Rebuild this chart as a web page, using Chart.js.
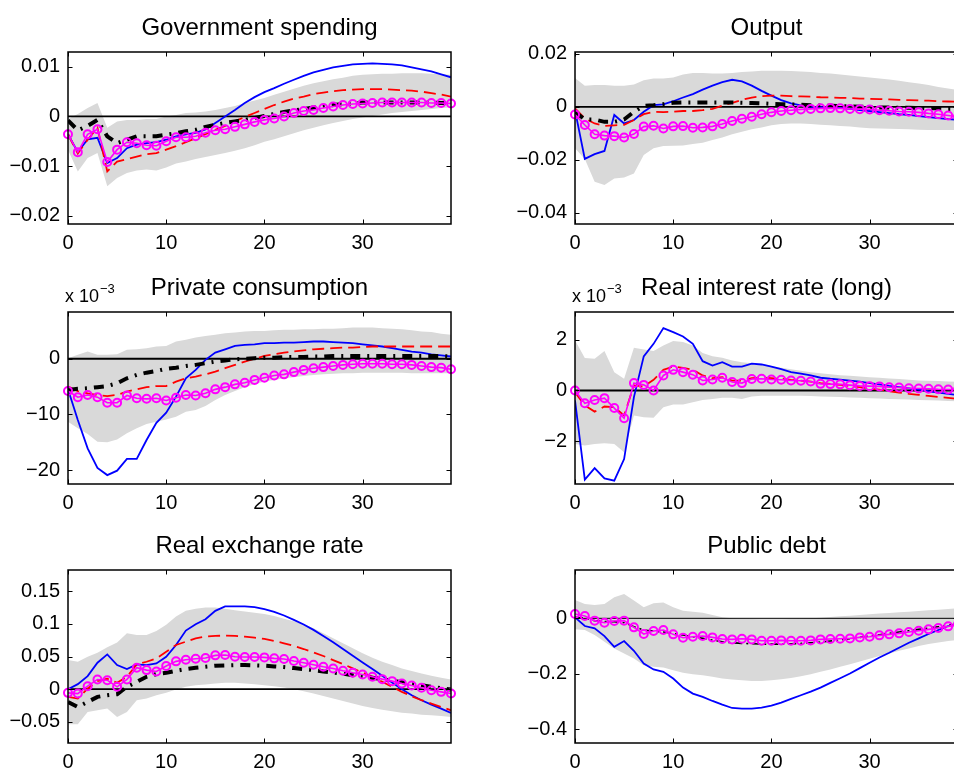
<!DOCTYPE html>
<html><head><meta charset="utf-8">
<script src="https://cdn.jsdelivr.net/npm/chart.js@4.4.0/dist/chart.umd.min.js"></script>
<style>
html,body{margin:0;padding:0;background:#fff;overflow:hidden;width:954px;height:772px;position:relative;}
canvas{position:absolute;}
</style></head><body>
<canvas id="c1" width="477" height="265" style="left:0;top:0;width:477px;height:265px"></canvas>
<canvas id="c2" width="523" height="265" style="left:477px;top:0;width:523px;height:265px"></canvas>
<canvas id="c3" width="477" height="268" style="left:0;top:257px;width:477px;height:268px"></canvas>
<canvas id="c4" width="523" height="268" style="left:477px;top:257px;width:523px;height:268px"></canvas>
<canvas id="c5" width="477" height="257" style="left:0;top:515px;width:477px;height:257px"></canvas>
<canvas id="c6" width="523" height="257" style="left:477px;top:515px;width:523px;height:257px"></canvas>
<script>
// ---------- DATA ----------
const periods = [0,1,2,3,4,5,6,7,8,9,10,11,12,13,14,15,16,17,18,19,20,21,22,23,24,25,26,27,28,29,30,31,32,33,34,35,36,37,38,39];
const xTicks = [0,10,20,30];
const titles = ["Government spending","Output","Private consumption","Real interest rate (long)","Real exchange rate","Public debt"];
const exponentLabel = "x 10";
const exponentPower = "\u22123";

// Government spending
const govYTicks = [-0.02,-0.01,0,0.01];
const govYRange = [-0.0217,0.013];
const govBlue = [-0.0036,-0.0072,-0.0046,-0.0043,-0.0094,-0.0084,-0.0064,-0.0057,-0.0054,-0.0052,-0.0047,-0.0040,-0.0036,-0.0033,-0.0026,-0.0013,0.0000,0.0013,0.0027,0.0039,0.0049,0.0057,0.0066,0.0074,0.0082,0.0089,0.0094,0.0099,0.0102,0.0105,0.0106,0.0107,0.0106,0.0105,0.0103,0.0099,0.0095,0.0091,0.0085,0.0079];
const govRed = [-0.0036,-0.0075,-0.0047,-0.0023,-0.0111,-0.0091,-0.0086,-0.0081,-0.0076,-0.0074,-0.0067,-0.0060,-0.0052,-0.0044,-0.0036,-0.0027,-0.0019,-0.0010,-0.0001,0.0007,0.0015,0.0023,0.0030,0.0036,0.0040,0.0045,0.0048,0.0051,0.0053,0.0054,0.0055,0.0055,0.0055,0.0054,0.0053,0.0052,0.0050,0.0047,0.0044,0.0040];
const govBlack = [-0.0008,-0.0028,-0.0019,-0.0007,-0.0040,-0.0054,-0.0047,-0.0040,-0.0040,-0.0040,-0.0037,-0.0034,-0.0030,-0.0027,-0.0021,-0.0017,-0.0013,-0.0010,-0.0007,-0.0003,0.0001,0.0005,0.0009,0.0012,0.0015,0.0018,0.0021,0.0023,0.0025,0.0026,0.0028,0.0028,0.0028,0.0028,0.0028,0.0028,0.0028,0.0028,0.0027,0.0027];
const govMagenta = [-0.0036,-0.0072,-0.0036,-0.0026,-0.0092,-0.0067,-0.0052,-0.0054,-0.0058,-0.0059,-0.0050,-0.0042,-0.0042,-0.0040,-0.0033,-0.0028,-0.0026,-0.0021,-0.0016,-0.0011,-0.0007,-0.0004,0.0000,0.0007,0.0011,0.0013,0.0017,0.0020,0.0023,0.0025,0.0026,0.0027,0.0028,0.0028,0.0028,0.0028,0.0028,0.0027,0.0027,0.0026];
const govBandHi = [-0.0005,0.0005,0.0017,0.0027,-0.0023,-0.0010,-0.0007,-0.0007,-0.0005,-0.0005,0.0000,0.0003,0.0007,0.0008,0.0010,0.0013,0.0017,0.0021,0.0027,0.0032,0.0037,0.0044,0.0050,0.0056,0.0062,0.0067,0.0071,0.0075,0.0078,0.0082,0.0084,0.0085,0.0086,0.0086,0.0087,0.0087,0.0087,0.0086,0.0085,0.0084];
const govBandLo = [-0.0067,-0.0111,-0.0084,-0.0074,-0.0141,-0.0124,-0.0114,-0.0109,-0.0107,-0.0109,-0.0103,-0.0095,-0.0091,-0.0086,-0.0082,-0.0078,-0.0074,-0.0069,-0.0064,-0.0058,-0.0051,-0.0046,-0.0040,-0.0034,-0.0028,-0.0023,-0.0018,-0.0013,-0.0009,-0.0005,-0.0002,0.0001,0.0004,0.0007,0.0009,0.0011,0.0013,0.0015,0.0017,0.0018];

// Output
const outYTicks = [-0.04,-0.02,0,0.02];
const outYRange = [-0.0443,0.0207];
const outBlue = [-0.0013,-0.0197,-0.0179,-0.0167,-0.0031,-0.0063,-0.0050,-0.0019,0.0006,0.0009,0.0021,0.0035,0.0048,0.0065,0.0080,0.0093,0.0102,0.0096,0.0080,0.0060,0.0042,0.0025,0.0013,0.0005,0.0000,-0.0001,-0.0003,-0.0004,-0.0008,-0.0013,-0.0016,-0.0020,-0.0024,-0.0028,-0.0031,-0.0035,-0.0039,-0.0043,-0.0047,-0.0049];
const outRed = [-0.0006,-0.0044,-0.0063,-0.0072,-0.0070,-0.0068,-0.0050,-0.0028,-0.0019,-0.0020,-0.0019,-0.0016,-0.0016,-0.0013,-0.0008,0.0004,0.0015,0.0026,0.0035,0.0040,0.0042,0.0042,0.0040,0.0039,0.0038,0.0036,0.0035,0.0034,0.0033,0.0031,0.0030,0.0029,0.0028,0.0026,0.0025,0.0024,0.0023,0.0021,0.0020,0.0019];
const outBlack = [-0.0019,-0.0048,-0.0048,-0.0057,-0.0057,-0.0048,-0.0019,0.0003,0.0006,0.0010,0.0015,0.0016,0.0016,0.0016,0.0016,0.0016,0.0016,0.0015,0.0014,0.0013,0.0011,0.0010,0.0009,0.0008,0.0006,0.0005,0.0004,0.0003,0.0001,0.0000,-0.0001,-0.0003,-0.0003,-0.0004,-0.0004,-0.0005,-0.0006,-0.0006,-0.0008,-0.0008];
const outMagenta = [-0.0029,-0.0069,-0.0104,-0.0109,-0.0111,-0.0116,-0.0103,-0.0075,-0.0072,-0.0082,-0.0074,-0.0073,-0.0079,-0.0078,-0.0074,-0.0065,-0.0054,-0.0045,-0.0038,-0.0028,-0.0021,-0.0016,-0.0013,-0.0010,-0.0008,-0.0006,-0.0005,-0.0006,-0.0008,-0.0009,-0.0010,-0.0013,-0.0015,-0.0018,-0.0019,-0.0021,-0.0025,-0.0028,-0.0033,-0.0038];
const outBandHi = [0.0109,0.0079,0.0082,0.0082,0.0079,0.0079,0.0084,0.0100,0.0107,0.0107,0.0111,0.0122,0.0128,0.0128,0.0126,0.0126,0.0128,0.0131,0.0133,0.0136,0.0136,0.0136,0.0135,0.0133,0.0131,0.0128,0.0126,0.0122,0.0118,0.0114,0.0111,0.0107,0.0103,0.0098,0.0093,0.0088,0.0082,0.0075,0.0069,0.0063];
const outBandLo = [-0.0157,-0.0197,-0.0283,-0.0296,-0.0271,-0.0267,-0.0252,-0.0182,-0.0157,-0.0148,-0.0147,-0.0146,-0.0141,-0.0136,-0.0126,-0.0116,-0.0104,-0.0094,-0.0085,-0.0078,-0.0070,-0.0065,-0.0063,-0.0063,-0.0065,-0.0068,-0.0070,-0.0073,-0.0075,-0.0078,-0.0081,-0.0082,-0.0083,-0.0084,-0.0085,-0.0087,-0.0088,-0.0088,-0.0088,-0.0088];

// Private consumption (x 10^-3)
const conYTicks = [-20,-10,0];
const conYRange = [-22.5,8.4];
const conBlue = [-5.5,-11.0,-16.1,-19.6,-20.9,-20.1,-18.0,-18.0,-14.6,-11.5,-9.7,-6.8,-3.5,-2.0,-0.2,1.1,1.7,2.3,2.5,2.6,2.8,2.8,2.9,2.9,3.0,3.1,3.1,3.0,2.9,2.8,2.6,2.4,2.2,1.9,1.6,1.3,1.1,0.8,0.6,0.4];
const conRed = [-5.0,-5.8,-6.2,-6.5,-6.7,-6.5,-5.9,-5.5,-5.1,-4.9,-4.9,-4.1,-3.5,-3.2,-2.8,-2.3,-1.7,-1.1,-0.5,0.0,0.5,0.8,1.1,1.3,1.5,1.7,1.8,1.9,2.0,2.0,2.1,2.2,2.2,2.2,2.2,2.2,2.2,2.2,2.2,2.2];
const conBlack = [-5.6,-5.4,-5.3,-5.1,-4.9,-4.4,-3.5,-2.9,-2.5,-2.2,-1.8,-1.6,-1.3,-1.1,-0.8,-0.5,-0.3,-0.1,0.0,0.1,0.2,0.2,0.3,0.3,0.3,0.4,0.4,0.5,0.5,0.5,0.5,0.5,0.5,0.5,0.5,0.5,0.5,0.5,0.5,0.4];
const conMagenta = [-5.8,-6.9,-6.5,-6.9,-7.9,-7.9,-6.6,-7.1,-7.2,-7.1,-7.5,-7.0,-6.5,-6.6,-6.2,-5.5,-5.1,-4.6,-4.3,-3.8,-3.4,-3.0,-2.8,-2.4,-2.0,-1.7,-1.5,-1.3,-1.1,-1.0,-0.9,-0.9,-0.9,-1.0,-1.0,-1.1,-1.3,-1.5,-1.6,-1.9];
const conBandHi = [0.1,0.7,1.3,0.7,0.7,0.8,1.6,1.7,1.9,2.2,2.3,3.1,3.4,3.8,4.1,4.3,4.6,4.7,4.9,5.0,5.0,5.1,5.2,5.2,5.3,5.3,5.4,5.4,5.5,5.6,5.6,5.6,5.5,5.4,5.3,5.1,4.9,4.8,4.5,4.3];
const conBandLo = [-11.3,-12.5,-13.5,-14.9,-15.0,-14.5,-13.4,-12.5,-11.7,-11.3,-10.9,-10.4,-9.5,-9.2,-8.5,-7.4,-6.5,-5.8,-5.1,-4.6,-4.1,-3.8,-3.5,-3.3,-3.1,-2.9,-2.8,-2.7,-2.6,-2.6,-2.5,-2.5,-2.5,-2.5,-2.5,-2.6,-2.6,-2.6,-2.6,-2.6];

// Real interest rate (long) (x 10^-3)
const rateYTicks = [-2,0,2];
const rateYRange = [-3.67,3.08];
const rateBlue = [-0.39,-3.50,-3.05,-3.45,-3.54,-2.69,-0.26,1.34,1.83,2.45,2.29,2.12,1.83,1.15,0.98,1.11,0.94,0.94,1.05,1.02,0.94,0.84,0.72,0.66,0.59,0.50,0.46,0.43,0.39,0.35,0.29,0.24,0.18,0.13,0.08,0.03,-0.03,-0.08,-0.13,-0.18];
const rateRed = [-0.07,-0.59,-0.83,-0.63,-0.66,-0.98,0.20,0.16,0.42,0.81,0.94,0.89,0.81,0.59,0.48,0.52,0.39,0.39,0.48,0.50,0.48,0.46,0.42,0.39,0.35,0.29,0.26,0.22,0.17,0.13,0.08,0.03,-0.03,-0.08,-0.13,-0.17,-0.21,-0.25,-0.29,-0.33];
const rateMagenta = [0.00,-0.50,-0.37,-0.30,-0.69,-1.09,0.29,0.22,0.00,0.59,0.81,0.72,0.62,0.39,0.43,0.50,0.33,0.29,0.45,0.46,0.43,0.42,0.39,0.38,0.35,0.26,0.25,0.24,0.21,0.18,0.17,0.16,0.13,0.12,0.09,0.08,0.07,0.05,0.04,0.03];
const rateBandHi = [1.97,1.27,1.25,1.55,0.72,0.46,1.68,1.61,1.55,1.77,1.94,1.90,1.77,1.47,1.34,1.28,1.18,1.11,1.07,1.02,0.96,0.89,0.83,0.77,0.72,0.68,0.64,0.60,0.58,0.55,0.52,0.50,0.47,0.45,0.42,0.39,0.38,0.37,0.35,0.34];
const rateBandLo = [-2.10,-2.16,-2.10,-2.07,-2.10,-2.42,-0.98,-1.05,-1.07,-0.66,-0.55,-0.55,-0.46,-0.37,-0.33,-0.29,-0.29,-0.33,-0.24,-0.21,-0.21,-0.21,-0.21,-0.21,-0.22,-0.24,-0.25,-0.26,-0.28,-0.29,-0.30,-0.31,-0.33,-0.34,-0.35,-0.37,-0.38,-0.39,-0.41,-0.42];

// Real exchange rate
const rerYTicks = [-0.05,0,0.05,0.1,0.15];
const rerYRange = [-0.0824,0.1825];
const rerBlue = [0.0000,0.0077,0.0200,0.0405,0.0533,0.0369,0.0308,0.0379,0.0369,0.0395,0.0497,0.0677,0.0897,0.0995,0.1072,0.1200,0.1267,0.1267,0.1267,0.1256,0.1226,0.1185,0.1128,0.1062,0.0990,0.0908,0.0815,0.0718,0.0615,0.0513,0.0410,0.0308,0.0205,0.0103,0.0000,-0.0092,-0.0169,-0.0236,-0.0297,-0.0364];
const rerRed = [-0.0118,-0.0144,0.0010,0.0123,0.0159,0.0097,0.0190,0.0379,0.0420,0.0472,0.0574,0.0677,0.0728,0.0779,0.0805,0.0815,0.0821,0.0815,0.0805,0.0790,0.0769,0.0738,0.0703,0.0662,0.0615,0.0564,0.0508,0.0446,0.0385,0.0318,0.0256,0.0190,0.0113,0.0036,-0.0041,-0.0108,-0.0169,-0.0221,-0.0272,-0.0323];
const rerBlack = [-0.0195,-0.0272,-0.0195,-0.0118,-0.0092,-0.0077,0.0036,0.0113,0.0190,0.0231,0.0251,0.0282,0.0308,0.0328,0.0344,0.0359,0.0364,0.0369,0.0369,0.0364,0.0359,0.0349,0.0338,0.0323,0.0308,0.0292,0.0272,0.0256,0.0236,0.0215,0.0195,0.0174,0.0154,0.0128,0.0108,0.0082,0.0062,0.0036,0.0015,-0.0005];
const rerMagenta = [-0.0056,-0.0067,0.0046,0.0149,0.0138,0.0036,0.0149,0.0328,0.0292,0.0272,0.0354,0.0426,0.0451,0.0467,0.0477,0.0518,0.0523,0.0497,0.0492,0.0492,0.0487,0.0472,0.0462,0.0431,0.0405,0.0374,0.0344,0.0318,0.0282,0.0251,0.0226,0.0190,0.0154,0.0123,0.0087,0.0056,0.0021,-0.0015,-0.0041,-0.0067];
const rerBandHi = [0.0446,0.0420,0.0497,0.0559,0.0641,0.0713,0.0856,0.0831,0.0831,0.0892,0.0985,0.1113,0.1200,0.1230,0.1250,0.1250,0.1230,0.1210,0.1190,0.1170,0.1150,0.1120,0.1080,0.1040,0.0990,0.0933,0.0856,0.0779,0.0703,0.0626,0.0549,0.0482,0.0420,0.0369,0.0318,0.0277,0.0241,0.0205,0.0174,0.0149];
const rerBandLo = [-0.0538,-0.0538,-0.0349,-0.0323,-0.0297,-0.0426,-0.0349,-0.0169,-0.0144,-0.0092,-0.0056,-0.0005,0.0036,0.0062,0.0072,0.0087,0.0097,0.0097,0.0087,0.0077,0.0062,0.0046,0.0026,0.0000,-0.0031,-0.0067,-0.0103,-0.0144,-0.0179,-0.0221,-0.0256,-0.0287,-0.0313,-0.0338,-0.0359,-0.0374,-0.0390,-0.0400,-0.0410,-0.0426];

// Public debt
const debtYTicks = [-0.4,-0.2,0];
const debtYRange = [-0.449,0.174];
const debtBlue = [0.0036,-0.0277,-0.0361,-0.0639,-0.1024,-0.0819,-0.1169,-0.1627,-0.1843,-0.1928,-0.2169,-0.2494,-0.2711,-0.2831,-0.2976,-0.3108,-0.3229,-0.3253,-0.3253,-0.3217,-0.3145,-0.3036,-0.2904,-0.2771,-0.2639,-0.2494,-0.2325,-0.2157,-0.1988,-0.1795,-0.1602,-0.1410,-0.1241,-0.1060,-0.0880,-0.0723,-0.0566,-0.0422,-0.0277,-0.0181];
const debtBlack = [0.0036,0.0000,-0.0084,-0.0120,-0.0120,-0.0157,-0.0301,-0.0422,-0.0458,-0.0494,-0.0542,-0.0602,-0.0663,-0.0723,-0.0783,-0.0843,-0.0880,-0.0904,-0.0916,-0.0928,-0.0928,-0.0928,-0.0916,-0.0904,-0.0880,-0.0855,-0.0819,-0.0783,-0.0735,-0.0687,-0.0639,-0.0590,-0.0542,-0.0494,-0.0446,-0.0398,-0.0349,-0.0301,-0.0253,-0.0205];
const debtMagenta = [0.0157,0.0084,-0.0084,-0.0157,-0.0096,-0.0084,-0.0325,-0.0566,-0.0458,-0.0422,-0.0578,-0.0699,-0.0663,-0.0639,-0.0687,-0.0747,-0.0759,-0.0735,-0.0759,-0.0807,-0.0807,-0.0795,-0.0807,-0.0807,-0.0795,-0.0759,-0.0747,-0.0735,-0.0723,-0.0687,-0.0663,-0.0614,-0.0578,-0.0542,-0.0494,-0.0446,-0.0398,-0.0349,-0.0289,-0.0217];
const debtBandHi = [0.0663,0.0518,0.0482,0.0518,0.0759,0.0880,0.0639,0.0398,0.0542,0.0566,0.0398,0.0277,0.0241,0.0205,0.0120,0.0036,0.0000,-0.0012,-0.0024,-0.0036,-0.0036,-0.0036,-0.0024,-0.0012,0.0000,0.0024,0.0048,0.0072,0.0096,0.0120,0.0145,0.0169,0.0193,0.0217,0.0241,0.0265,0.0289,0.0313,0.0337,0.0361];
const debtBandLo = [-0.0398,-0.0422,-0.0602,-0.0843,-0.1084,-0.1265,-0.1446,-0.1687,-0.1747,-0.1771,-0.1867,-0.1964,-0.2012,-0.2048,-0.2108,-0.2169,-0.2205,-0.2229,-0.2253,-0.2253,-0.2229,-0.2193,-0.2145,-0.2084,-0.2012,-0.1928,-0.1843,-0.1747,-0.1650,-0.1554,-0.1458,-0.1361,-0.1265,-0.1169,-0.1084,-0.1000,-0.0928,-0.0867,-0.0819,-0.0783];

// ---------- LAYOUT / STYLE ----------
const FONT = '"Liberation Sans", Arial, Helvetica, sans-serif';
const colGeom = [ {yW:68, padR:26}, {yW:98, padR:42} ];
const rowGeom = [ {padT:52, xH:41}, {padT:55, xH:41}, {padT:55, xH:29} ];

const panels = [
  {id:'c1', col:0,row:0, title:titles[0], yTicks:govYTicks, yRange:govYRange, blue:govBlue, red:govRed, black:govBlack, magenta:govMagenta, hi:govBandHi, lo:govBandLo},
  {id:'c2', col:1,row:0, title:titles[1], yTicks:outYTicks, yRange:outYRange, blue:outBlue, red:outRed, black:outBlack, magenta:outMagenta, hi:outBandHi, lo:outBandLo},
  {id:'c3', col:0,row:1, title:titles[2], yTicks:conYTicks, yRange:conYRange, blue:conBlue, red:conRed, black:conBlack, magenta:conMagenta, hi:conBandHi, lo:conBandLo, exp:true},
  {id:'c4', col:1,row:1, title:titles[3], yTicks:rateYTicks, yRange:rateYRange, blue:rateBlue, red:rateRed, black:null, magenta:rateMagenta, hi:rateBandHi, lo:rateBandLo, exp:true},
  {id:'c5', col:0,row:2, title:titles[4], yTicks:rerYTicks, yRange:rerYRange, blue:rerBlue, red:rerRed, black:rerBlack, magenta:rerMagenta, hi:rerBandHi, lo:rerBandLo},
  {id:'c6', col:1,row:2, title:titles[5], yTicks:debtYTicks, yRange:debtYRange, blue:debtBlue, red:null, black:debtBlack, magenta:debtMagenta, hi:debtBandHi, lo:debtBandLo, thin:true}
];

const fmt = v => String(v).replace('-', '\u2212');

const framePlugin = {
  id: 'frame',
  afterDatasetDraw(chart, args, opts) {
    if (args.index !== opts.zeroAfter) return;
    const {ctx, chartArea:a, scales:{y}} = chart;
    const py = y.getPixelForValue(0);
    ctx.save();
    ctx.strokeStyle = '#000'; ctx.lineWidth = opts.zeroW;
    ctx.beginPath(); ctx.moveTo(a.left, py); ctx.lineTo(a.right, py); ctx.stroke();
    ctx.restore();
  },
  afterDraw(chart, args, opts) {
    const {ctx, chartArea:a, scales:{x, y}} = chart;
    ctx.save();
    ctx.strokeStyle = '#000'; ctx.lineWidth = 1.5;
    ctx.strokeRect(a.left, a.top, a.right - a.left, a.bottom - a.top);
    ctx.lineWidth = 1;
    const tl = 4.5;
    ctx.beginPath();
    opts.xt.forEach(v => {
      const px = Math.round(x.getPixelForValue(v)) + 0.5;
      ctx.moveTo(px, a.bottom); ctx.lineTo(px, a.bottom - tl);
      ctx.moveTo(px, a.top); ctx.lineTo(px, a.top + tl);
    });
    opts.yt.forEach(v => {
      const py = Math.round(y.getPixelForValue(v)) + 0.5;
      ctx.moveTo(a.left, py); ctx.lineTo(a.left + tl, py);
      ctx.moveTo(a.right, py); ctx.lineTo(a.right - tl, py);
    });
    ctx.stroke();
    ctx.fillStyle = '#000';
    ctx.font = '24px ' + FONT;
    ctx.textAlign = 'center'; ctx.textBaseline = 'alphabetic';
    ctx.fillText(opts.title, (a.left + a.right) / 2, a.top - 17);
    if (opts.exp) {
      ctx.textAlign = 'left';
      ctx.font = '18px ' + FONT;
      ctx.fillText(exponentLabel, a.left - 3, a.top - 10);
      const w = ctx.measureText(exponentLabel).width;
      ctx.font = '13px ' + FONT;
      ctx.fillText(exponentPower, a.left - 3 + w + 1, a.top - 19);
    }
    ctx.restore();
  }
};

panels.forEach(p => {
  const cg = colGeom[p.col], rg = rowGeom[p.row];
  const ds = [];
  ds.push({data:p.magenta, borderColor:'#ff00ff', borderWidth:1.6, pointRadius:4, pointHoverRadius:4,
           pointBorderWidth:2, pointBackgroundColor:'rgba(0,0,0,0)', pointBorderColor:'#ff00ff', clip:false, tension:0});
  if (p.black) ds.push({data:p.black, borderColor:'#000', borderWidth:p.thin?1.6:4,
           borderDash:p.thin?[8,4,2,4]:[10,7,2,7], borderCapStyle:'butt', pointRadius:0, tension:0});
  if (p.red) ds.push({data:p.red, borderColor:'#ff0000', borderWidth:1.8, borderDash:[12,6], pointRadius:0, tension:0});
  ds.push({data:p.blue, borderColor:'#0000ff', borderWidth:1.8, pointRadius:0, tension:0});
  const hiIndex = ds.length;
  ds.push({data:p.hi, borderColor:'rgba(0,0,0,0)', borderWidth:0, pointRadius:0, fill:'+1', backgroundColor:'#d9d9d9', tension:0});
  ds.push({data:p.lo, borderColor:'rgba(0,0,0,0)', borderWidth:0, pointRadius:0, fill:false, tension:0});

  new Chart(document.getElementById(p.id), {
    type: 'line',
    data: { labels: periods, datasets: ds },
    options: {
      responsive:false, animation:false, devicePixelRatio:1,
      layout:{ padding:{ left:0, top:rg.padT, right:cg.padR, bottom:0 } },
      plugins:{ legend:{display:false}, tooltip:{enabled:false}, title:{display:false},
        frame:{ title:p.title, exp:!!p.exp, xt:xTicks, yt:p.yTicks, zeroAfter:hiIndex, zeroW:p.thin?1:1.8 } },
      scales:{
        x:{ type:'linear', min:0, max:39,
            grid:{display:false, drawTicks:false}, border:{display:false},
            afterBuildTicks: s => { s.ticks = xTicks.map(v => ({value:v})); },
            afterFit: s => { s.height = rg.xH; },
            ticks:{ color:'#000', font:{family:FONT, size:20}, padding:7, maxRotation:0, autoSkip:false,
                    callback: v => fmt(v) } },
        y:{ type:'linear', min:p.yRange[0], max:p.yRange[1],
            grid:{display:false, drawTicks:false}, border:{display:false},
            afterBuildTicks: s => { s.ticks = p.yTicks.map(v => ({value:v})); },
            afterFit: s => { s.width = cg.yW; },
            ticks:{ color:'#000', font:{family:FONT, size:20}, padding:8, autoSkip:false,
                    callback: v => fmt(v) } }
      }
    },
    plugins:[framePlugin]
  });
});
</script>
</body></html>
